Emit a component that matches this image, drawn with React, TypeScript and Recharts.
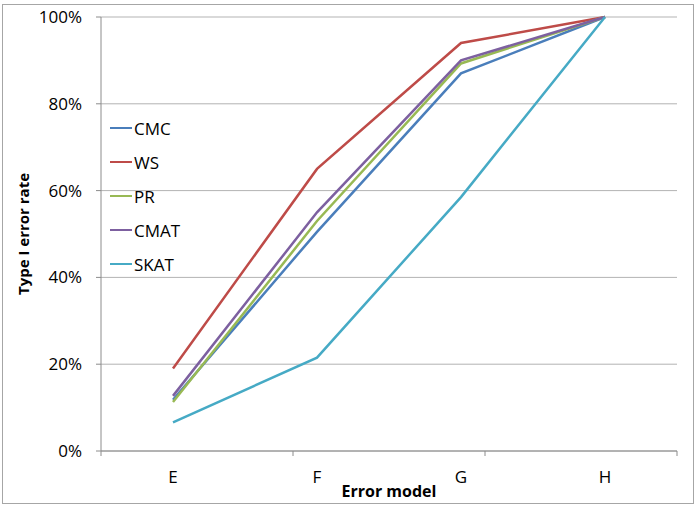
import {
  CartesianGrid,
  Legend,
  Line,
  LineChart,
  XAxis,
  YAxis,
} from "recharts";

const models = ["E", "F", "G", "H"];

const cmc = [11.8, 50.5, 87.0, 100];
const ws = [19.0, 65.0, 94.0, 100];
const pr = [11.3, 53.0, 89.3, 100];
const cmat = [12.7, 55.0, 90.0, 100];
const skat = [6.6, 21.5, 58.5, 100];

const yTicks = [0, 20, 40, 60, 80, 100];
const boundaryTicks = [0, 1, 2, 3, 4];

const series = [
  { key: "CMC", values: cmc, color: "#4a7ebb" },
  { key: "WS", values: ws, color: "#be4b48" },
  { key: "PR", values: pr, color: "#98b954" },
  { key: "CMAT", values: cmat, color: "#7d60a0" },
  { key: "SKAT", values: skat, color: "#46aac5" },
];

const data = models.map((m, i) => {
  const row: Record<string, string | number> = { model: m };
  series.forEach((s) => {
    row[s.key] = s.values[i];
  });
  return row;
});

const FONT = "'Open Sans', 'Liberation Sans', sans-serif";
const GRID = "#b3b3b3";
const AXIS = "#8c8c8c";

function LegendBox() {
  return (
    <div style={{ display: "flex", flexDirection: "column" }}>
      {series.map((s) => (
        <div
          key={s.key}
          style={{ display: "flex", alignItems: "center", height: 34 }}
        >
          <span
            style={{
              display: "inline-block",
              width: 22,
              height: 2.5,
              background: s.color,
              marginRight: 2,
            }}
          />
          <span style={{ fontSize: 17, color: "#000" }}>{s.key}</span>
        </div>
      ))}
    </div>
  );
}

function YTitle(props: any) {
  const vb = props.viewBox ?? {};
  const x = (vb.x ?? 0) + 23;
  const y = (vb.y ?? 0) + (vb.height ?? 0) / 2;
  return (
    <text
      x={x}
      y={y}
      transform={`rotate(-90, ${x}, ${y})`}
      textAnchor="middle"
      dominantBaseline="central"
      fontSize={15}
      fontWeight="bold"
      fill="#000"
    >
      Type I error rate
    </text>
  );
}

export default function App() {
  return (
    <div
      style={{
        position: "absolute",
        left: 0,
        top: 0,
        width: 699,
        height: 509,
        background: "#fff",
        fontFamily: FONT,
      }}
    >
      <div
        style={{
          position: "absolute",
          left: 2,
          top: 4,
          width: 690,
          height: 498,
          border: "1px solid #a6a6a6",
        }}
      />
      <LineChart
        width={699}
        height={509}
        data={data}
        margin={{ top: 17, right: 22, bottom: 0, left: 0 }}
        style={{ position: "absolute", left: 0, top: 0 }}
      >
        <CartesianGrid
          vertical={false}
          stroke={GRID}
          strokeWidth={1}
          xAxisId="cat"
        />
        <XAxis
          xAxisId="a_bounds"
          type="number"
          domain={[0, 4]}
          ticks={boundaryTicks}
          allowDataOverflow
          height={1}
          tickSize={5}
          tickLine={{ stroke: AXIS }}
          axisLine={{ stroke: AXIS }}
          tick={() => <g />}
        />
        <XAxis
          xAxisId="cat"
          dataKey="model"
          height={57}
          padding={{ left: 72, right: 72 }}
          axisLine={false}
          tickLine={false}
          tickSize={0}
          tickMargin={19}
          tick={{ fill: "#000", fontSize: 17 }}
          label={{
            value: "Error model",
            position: "insideBottom",
            offset: 12,
            fill: "#000",
            fontSize: 16,
            fontWeight: "bold",
          }}
        />
        <YAxis
          width={101}
          domain={[0, 100]}
          ticks={yTicks}
          tickFormatter={(v: number) => `${v}%`}
          tickSize={5}
          tickMargin={14}
          tickLine={{ stroke: AXIS }}
          axisLine={{ stroke: AXIS }}
          tick={{ fill: "#000", fontSize: 17 }}
          label={{ content: <YTitle /> }}
        />
        <Legend
          layout="horizontal"
          verticalAlign="middle"
          align="center"
          content={() => <LegendBox />}
          wrapperStyle={{ left: 110, top: 111, width: "auto" }}
        />
        {series.map((s) => (
          <Line
            key={s.key}
            xAxisId="cat"
            dataKey={s.key}
            stroke={s.color}
            strokeWidth={2.5}
            dot={false}
            activeDot={false}
            isAnimationActive={false}
          />
        ))}
      </LineChart>
    </div>
  );
}
